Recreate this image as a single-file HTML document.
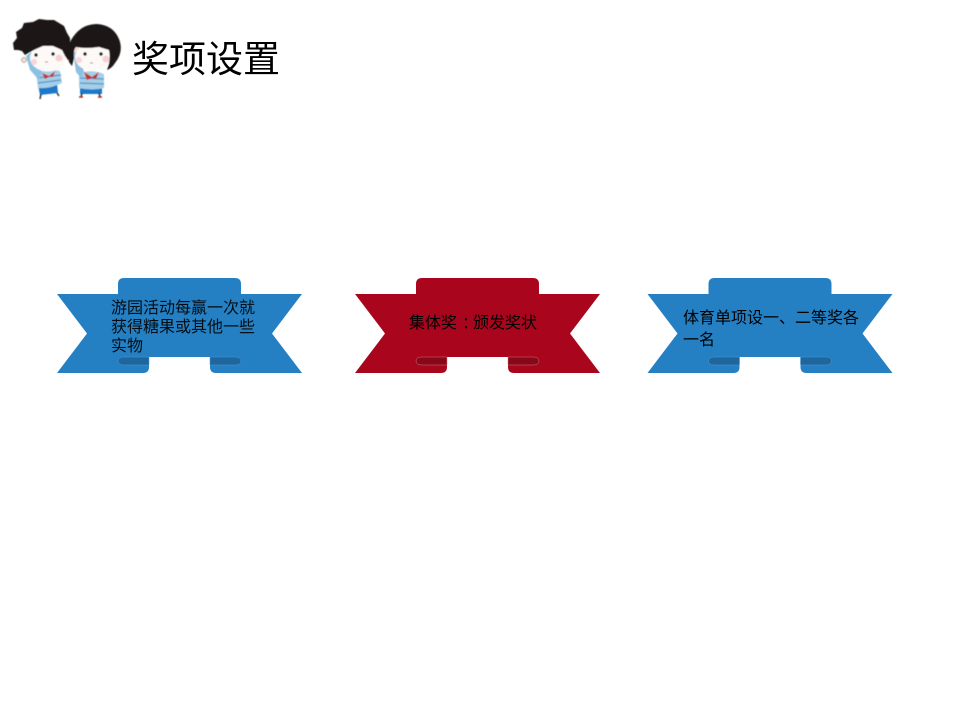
<!DOCTYPE html>
<html lang="zh">
<head>
<meta charset="utf-8">
<style>
html,body{margin:0;padding:0;background:#fff;width:960px;height:720px;overflow:hidden}
svg{display:block}
text{font-family:"Liberation Sans","Noto Sans CJK SC",sans-serif;fill:#000}
</style>
</head>
<body>
<svg width="960" height="720" viewBox="0 0 960 720" xmlns="http://www.w3.org/2000/svg">
<defs>
<g id="shape">
  <path d="M57 294H118V284Q118 278 124 278H235Q241 278 241 284V294H302L272 333.500L302 373H216Q210 373 210 367V357H149V367Q149 373 143 373H57L87 333.500Z"/>
</g>
<filter id="soft" x="-5%" y="-5%" width="110%" height="110%"><feGaussianBlur stdDeviation="0.400"/></filter>
</defs>

<!-- Ribbon 1 -->
<use href="#shape" fill="#2480c3"/>
<path d="M149 357H124Q118 357 118 361Q118 365 124 365H149Z" fill="#1f669f" stroke="#4f97cf" stroke-width=".5"/>
<path d="M210 357H235Q241 357 241 361Q241 365 235 365H210Z" fill="#1f669f" stroke="#4f97cf" stroke-width=".5"/>
<text font-size="16" fill-opacity=".9"><tspan x="111" y="313">游园活动每赢一次就</tspan><tspan x="111" y="332">获得糖果或其他一些</tspan><tspan x="111" y="351">实物</tspan></text>

<!-- Ribbon 2 -->
<g transform="translate(298 0)">
<use href="#shape" fill="#a9061e"/>
<path d="M149 357H124Q118 357 118 361Q118 365 124 365H149Z" fill="#870818" stroke="#d0707f" stroke-width=".5"/>
<path d="M210 357H235Q241 357 241 361Q241 365 235 365H210Z" fill="#870818" stroke="#d0707f" stroke-width=".5"/>
</g>
<text font-size="16" x="409" y="328">集体奖<tspan dx="5">：</tspan><tspan dx="-5">颁发奖状</tspan></text>

<!-- Ribbon 3 -->
<g transform="translate(590.500 0)">
<use href="#shape" fill="#2480c3"/>
<path d="M149 357H124Q118 357 118 361Q118 365 124 365H149Z" fill="#1f669f" stroke="#4f97cf" stroke-width=".5"/>
<path d="M210 357H235Q241 357 241 361Q241 365 235 365H210Z" fill="#1f669f" stroke="#4f97cf" stroke-width=".5"/>
</g>
<text font-size="16"><tspan x="683" y="323">体育单项设一、二等奖各</tspan><tspan x="683" y="345">一名</tspan></text>

<!-- Title -->
<text x="132" y="72" font-size="37">奖项设置</text>

<g filter="url(#soft)">
<!-- Girl -->
<g>
  <path d="M80 87L102 87L102 94L80 94Z" fill="#1f78c8"/>
  <path d="M79 73Q92 69 104 74L104 88Q92 91 79 88Z" fill="#a5cfe8"/>
  <path d="M80 78L104 79M80 83L104 84" stroke="#4f94c8" stroke-width="1.300" fill="none"/>
  <path d="M84 72L92 77L99 72L96 79L92 78L87 80Z" fill="#c9302c"/>
  <path d="M82 93L81 97M99 93L100 97" stroke="#333" stroke-width="1.500"/>
  <path d="M79 97h4M98 97h4" stroke="#a8322c" stroke-width="1.500"/>
  <path d="M73 52L78 48L84 72L81 78L76 72Z" fill="#8cc0e2"/>
  <circle cx="77" cy="50" r="3" fill="#f5ddd0"/>
  <ellipse cx="93" cy="57" rx="18" ry="14" fill="#fdf9f7"/>
  <circle cx="79" cy="60" r="3" fill="#f9d5d5"/>
  <circle cx="106" cy="59" r="3.500" fill="#f9d0d0"/>
  <circle cx="85" cy="54" r="1.700" fill="#111"/>
  <circle cx="101" cy="54" r="1.700" fill="#111"/>
  <path d="M90 63h3" stroke="#a55" stroke-width=".8"/>
  <path d="M69 62Q66 46 73 37Q82 24 97 24Q113 25 119 39Q124 52 115 63Q112 68 107 70Q111 60 109 50L99 47Q86 49 76 47Q73 50 74 58L72 66Z" fill="#1d1214"/>
</g>
<!-- Boy -->
<g>
  <path d="M38 85L57 83L58 93L40 95Z" fill="#1f78c8"/>
  <path d="M36 73Q48 68 60 71L62 83Q50 89 38 88Z" fill="#a5cfe8"/>
  <path d="M37 78L61 75M38 83L61 80" stroke="#4f94c8" stroke-width="1.300" fill="none"/>
  <path d="M42 73L49 76L55 71L53 77L49 77L45 79Z" fill="#c9302c"/>
  <path d="M41 94L40 99M57 93L59 96" stroke="#333" stroke-width="1.500"/>
  <path d="M26 56L31 52L42 72L39 80L30 70Z" fill="#8cc0e2"/>
  <circle cx="24" cy="60" r="2.500" fill="#f5ddd0" stroke="#555" stroke-width=".5"/>
  <ellipse cx="48" cy="58" rx="18" ry="13.500" fill="#fdf9f7"/>
  <circle cx="34" cy="62" r="3" fill="#f9d5d5"/>
  <circle cx="59" cy="58" r="3.500" fill="#f9d0d0"/>
  <circle cx="36" cy="55" r="1.700" fill="#111"/>
  <circle cx="53" cy="54" r="1.700" fill="#111"/>
  <path d="M45 62h3" stroke="#a55" stroke-width=".8"/>
  <path d="M14 50L13 43L17 38L16 32L22 28L24 23L33 22L39 19L47 20L54 20L59 23L64 26L67 33L70 38L70 47L72 57L68 60L65 56L62 50L53 46L43 46L36 49L30 52L25 55L22 51L18 50Z" fill="#1d1214"/>
</g>
</g>
</svg>
</body>
</html>
